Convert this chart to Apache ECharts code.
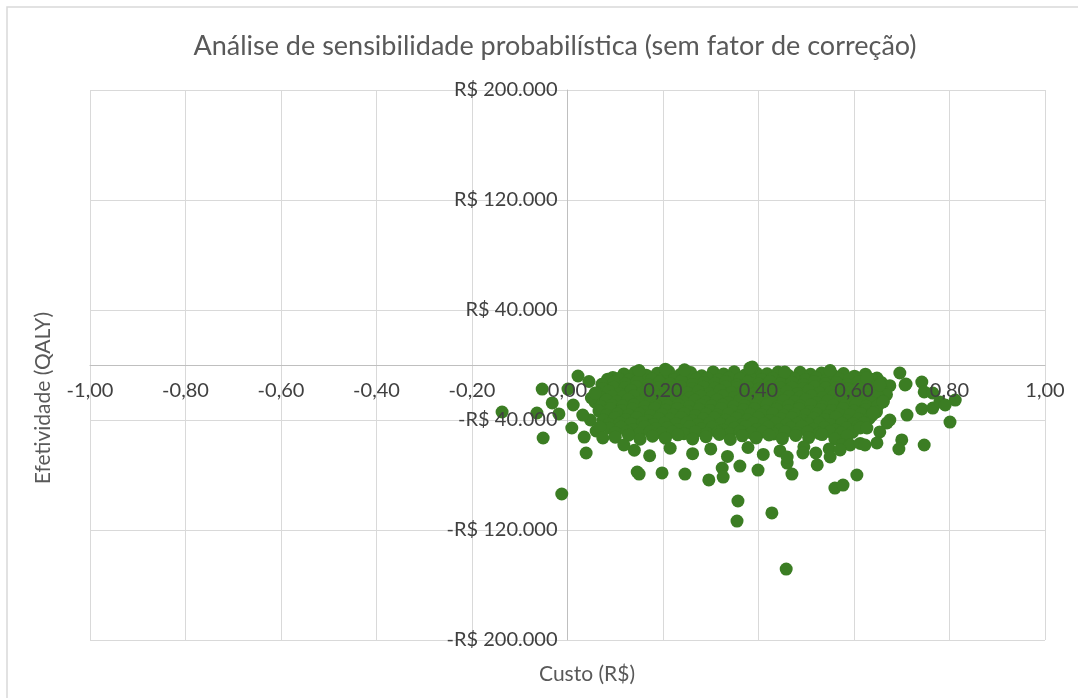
<!DOCTYPE html>
<html>
<head>
<meta charset="utf-8">
<script src="https://cdn.jsdelivr.net/npm/echarts@6/dist/echarts.min.js"></script>
<style>html,body{margin:0;padding:0;background:#fff;}#chart{width:1078px;height:698px;}</style>
</head>
<body>
<div id="chart"></div>
<script>
const titleText = 'Análise de sensibilidade probabilística (sem fator de correção)';
const xAxisTitle = 'Custo (R$)';
const yAxisTitle = 'Efetividade (QALY)';
const xRange = [-1, 1, 0.2];
const yRange = [-200000, 200000, 80000];

// Dense core of the cloud [custo, efetividade]
const coreCloud = [
  [0.095,-9000],[0.118,-6500],[0.142,-5200],[0.165,-7400],[0.188,-6000],[0.212,-4800],[0.236,-6900],[0.258,-5500],[0.281,-7800],[0.305,-5000],[0.327,-6600],[0.349,-4900],[0.372,-7200],[0.396,-5800],[0.418,-6400],[0.441,-5100],[0.463,-7700],[0.487,-5300],[0.509,-6800],[0.532,-5900],[0.556,-7400],[0.578,-6200],[0.601,-8100],[0.624,-6700],[0.648,-9500],
  [0.084,-10300],[0.107,-9800],[0.130,-10500],[0.154,-9600],[0.177,-10200],[0.200,-9900],[0.224,-10700],[0.247,-9500],[0.270,-10400],[0.293,-9700],[0.316,-10600],[0.338,-9400],[0.361,-10100],[0.384,-9800],[0.407,-10500],[0.430,-9600],[0.452,-10300],[0.475,-9900],[0.498,-10800],[0.521,-9500],[0.544,-10200],[0.567,-9700],[0.590,-10600],[0.613,-9900],[0.636,-10400],
  [0.072,-14000],[0.098,-12500],[0.121,-13800],[0.146,-11900],[0.169,-14400],[0.193,-12200],[0.215,-13600],[0.239,-11700],[0.262,-14100],[0.286,-12800],[0.309,-13300],[0.331,-12000],[0.355,-14600],[0.378,-12400],[0.401,-13900],[0.424,-11800],[0.447,-13500],[0.470,-12600],[0.494,-14200],[0.517,-12100],[0.540,-13700],[0.563,-12900],[0.586,-14300],[0.609,-12300],[0.633,-13800],[0.657,-12700],[0.675,-15000],
  [0.074,-17000],[0.097,-16200],[0.120,-16800],[0.144,-15900],[0.168,-17100],[0.191,-16300],[0.215,-16600],[0.238,-15800],[0.262,-17200],[0.285,-16100],[0.308,-16900],[0.331,-15700],[0.355,-16700],[0.378,-16400],[0.401,-17300],[0.424,-15900],[0.447,-16800],[0.470,-16200],[0.494,-17000],[0.517,-15800],[0.540,-16600],[0.563,-16300],[0.586,-17100],[0.609,-16000],[0.633,-16900],[0.656,-16400],
  [0.062,-20500],[0.086,-19000],[0.109,-20800],[0.133,-18600],[0.157,-20100],[0.180,-19300],[0.204,-21000],[0.227,-18800],[0.251,-20400],[0.274,-19100],[0.297,-20900],[0.320,-18500],[0.343,-20200],[0.367,-19600],[0.390,-21100],[0.413,-18900],[0.436,-20600],[0.459,-19400],[0.482,-20700],[0.505,-18700],[0.528,-20300],[0.551,-19800],[0.574,-21200],[0.597,-18900],[0.621,-20500],[0.645,-19200],[0.668,-21500],
  [0.070,-23500],[0.093,-22700],[0.116,-23300],[0.139,-22500],[0.163,-23800],[0.186,-22900],[0.209,-23200],[0.232,-22400],[0.256,-23700],[0.279,-22800],[0.302,-23400],[0.325,-22600],[0.349,-23900],[0.372,-22700],[0.395,-23100],[0.418,-22300],[0.441,-23600],[0.464,-22900],[0.487,-23300],[0.511,-22500],[0.534,-23800],[0.557,-22800],[0.580,-23200],[0.603,-22600],[0.626,-23700],[0.650,-22900],
  [0.058,-27000],[0.081,-25500],[0.104,-26800],[0.127,-25100],[0.150,-27300],[0.174,-25700],[0.197,-26500],[0.220,-24900],[0.244,-27100],[0.267,-25600],[0.290,-26900],[0.313,-25300],[0.337,-27400],[0.360,-25800],[0.383,-26600],[0.406,-25000],[0.429,-27200],[0.452,-25900],[0.476,-26700],[0.499,-25200],[0.522,-27500],[0.545,-26100],[0.568,-25400],[0.591,-27000],[0.614,-25700],[0.638,-27600],[0.661,-26300],
  [0.070,-30000],[0.093,-29200],[0.116,-29800],[0.139,-29000],[0.162,-30300],[0.185,-29400],[0.209,-29700],[0.232,-28900],[0.255,-30200],[0.279,-29300],[0.302,-29900],[0.325,-29100],[0.348,-30400],[0.371,-29500],[0.394,-29600],[0.418,-28800],[0.441,-30100],[0.464,-29400],[0.487,-29800],[0.510,-29000],[0.534,-30300],[0.557,-29300],[0.580,-29700],[0.603,-29100],[0.626,-30000],[0.650,-29500],
  [0.066,-33500],[0.090,-31800],[0.113,-33100],[0.136,-32000],[0.160,-33800],[0.183,-31500],[0.206,-32900],[0.230,-31700],[0.253,-34000],[0.276,-32200],[0.299,-33300],[0.322,-31600],[0.346,-33600],[0.369,-32400],[0.392,-31900],[0.415,-33700],[0.438,-32100],[0.462,-33400],[0.485,-31800],[0.508,-33900],[0.531,-32300],[0.554,-33000],[0.577,-31700],[0.600,-33500],[0.624,-32600],[0.647,-34200],
  [0.082,-36500],[0.105,-35700],[0.128,-36300],[0.151,-35500],[0.174,-36800],[0.198,-35900],[0.221,-36200],[0.244,-35400],[0.268,-36700],[0.291,-35800],[0.314,-36400],[0.337,-35600],[0.360,-36900],[0.383,-35800],[0.406,-36100],[0.430,-35300],[0.453,-36600],[0.476,-35900],[0.499,-36300],[0.522,-35500],[0.545,-36800],[0.569,-35800],[0.592,-36200],[0.615,-35600],[0.638,-36500],
  [0.075,-40000],[0.099,-38600],[0.122,-39700],[0.145,-38200],[0.168,-40300],[0.192,-38900],[0.215,-39500],[0.238,-38100],[0.262,-40500],[0.285,-39100],[0.308,-38400],[0.331,-40100],[0.354,-38700],[0.377,-39900],[0.400,-38300],[0.424,-40400],[0.447,-39200],[0.470,-38500],[0.493,-40200],[0.516,-38800],[0.539,-39600],[0.562,-38000],[0.585,-40600],[0.609,-39300],[0.632,-38900],
  [0.086,-43000],[0.110,-42200],[0.133,-42800],[0.157,-42000],[0.180,-43300],[0.203,-42400],[0.227,-42700],[0.250,-41900],[0.273,-43200],[0.297,-42300],[0.320,-42900],[0.343,-42100],[0.366,-43400],[0.389,-42300],[0.412,-42600],[0.436,-41800],[0.459,-43100],[0.482,-42400],[0.505,-42800],[0.528,-42000],[0.551,-43300],[0.575,-42300],[0.598,-42700],[0.621,-42000],
  [0.088,-46000],[0.112,-45200],[0.138,-47000],[0.161,-44800],[0.185,-46300],[0.209,-45500],[0.232,-47200],[0.256,-44900],[0.280,-46600],[0.303,-45300],[0.327,-47400],[0.350,-45800],[0.373,-44700],[0.397,-46900],[0.421,-45100],[0.444,-47100],[0.468,-45600],[0.491,-44600],[0.515,-46700],[0.538,-45400],[0.561,-47300],[0.585,-45900],[0.608,-44500],
  [0.100,-49300],[0.125,-48600],[0.150,-49800],[0.173,-48400],[0.197,-49500],[0.220,-48800],[0.244,-50000],[0.268,-48500],[0.292,-49600],[0.315,-48900],[0.339,-49900],[0.362,-48300],[0.385,-49400],[0.409,-48700],[0.432,-50100],[0.456,-48600],[0.480,-49200],[0.503,-48800],[0.527,-49700],[0.550,-48400],[0.573,-49500],[0.597,-48900],
  [0.100,-52500],[0.128,-51000],[0.152,-54000],[0.178,-51800],[0.205,-53200],[0.231,-50800],[0.262,-53800],[0.290,-52100],[0.318,-50500],[0.341,-54200],[0.366,-51500],[0.395,-53000],[0.422,-50900],[0.450,-53600],[0.478,-51200],[0.505,-52800],[0.533,-50600],[0.560,-53900],[0.586,-51400],
  [0.140,-62000],[0.172,-66000],[0.215,-60500],[0.262,-64500],[0.300,-61000],[0.335,-66500],[0.378,-60000],[0.410,-65000],[0.445,-62500],[0.495,-59500],[0.520,-64000],[0.548,-61000],[0.575,-58000],
  [0.045,-12000],[0.050,-24000],[0.048,-40000],[0.060,-48000],
  [0.387,-1500],[0.382,-2200],[0.455,-5100],[0.205,-3000],[0.245,-3500],[0.150,-4000],[0.550,-4000],
  [0.627,-9500],[0.654,-14500],[0.661,-26900],[0.675,-40000],[0.640,-34900],[0.613,-45800],[0.592,-58200],[0.613,-57000]
];

// Scattered points around the cloud
const scatteredPoints = [
  [-0.137,-34200],[-0.053,-17500],[-0.064,-34900],[-0.032,-27600],[-0.018,-35600],[-0.051,-53100],[-0.012,-93800],
  [0.022,-8000],[0.001,-17500],[0.012,-29100],[0.009,-45800],[0.035,-52400],[0.039,-64000],[0.032,-36400],[0.058,-20400],
  [0.068,-45100],[0.074,-53100],[0.118,-58200],[0.146,-77800],[0.150,-79300],[0.198,-78500],[0.246,-79300],
  [0.296,-83600],[0.324,-74900],[0.326,-81500],[0.361,-73500],[0.357,-98900],[0.355,-113500],[0.428,-107600],
  [0.458,-148400],[0.399,-76400],[0.460,-71300],[0.470,-79300],[0.523,-72700],[0.560,-89500],[0.577,-87300],
  [0.606,-80000],[0.460,-66900],[0.493,-64000],[0.550,-66900],[0.571,-61800],
  [0.696,-5800],[0.709,-13800],[0.742,-12400],[0.747,-19600],[0.765,-20400],[0.742,-32000],[0.765,-31300],
  [0.711,-36400],[0.700,-54500],[0.694,-61100],[0.747,-58200],[0.669,-42200],[0.654,-48700],[0.648,-56700],
  [0.623,-58200],[0.627,-45800],[0.801,-41500],[0.780,-26900],[0.812,-25500],[0.791,-29100],[0.707,-14500]
];

const allPoints = coreCloud.concat(scatteredPoints);

function fmtX(v) { return v.toFixed(2).replace('.', ','); }
function fmtY(v) {
  const r = Math.round(v);
  const s = String(Math.abs(r)).replace(/\B(?=(\d{3})+(?!\d))/g, '.');
  return (r < 0 ? '-' : '') + 'R$ ' + s;
}

const FONT = 'Lato';
const chart = echarts.init(document.getElementById('chart'), null, {renderer: 'canvas'});
const baseX = {type: 'value', min: xRange[0], max: xRange[1], interval: xRange[2], position: 'bottom'};
const baseY = {type: 'value', min: yRange[0], max: yRange[1], interval: yRange[2], position: 'left'};
chart.setOption({
  backgroundColor: '#ffffff',
  animation: false,
  title: {
    text: titleText, left: 550, top: 28, textAlign: 'center',
    textStyle: {fontFamily: FONT, fontSize: 27, fontWeight: 'normal', color: '#595959'}
  },
  grid: {left: 90, right: 33, top: 90, bottom: 58, containLabel: false, outerBoundsMode: 'none'},
  xAxis: [
    Object.assign({}, baseX, {
      z: 0,
      axisLine: {show: true, onZero: true, onZeroAxisIndex: 0, lineStyle: {color: '#bfbfbf', width: 1}},
      axisTick: {show: false},
      axisLabel: {show: false},
      splitLine: {show: true, lineStyle: {color: '#d9d9d9', width: 1}}
    }),
    Object.assign({}, baseX, {
      z: 10,
      offset: 0,
      axisLine: {show: false, onZero: false},
      axisTick: {show: false},
      axisLabel: {show: true, margin: 16, formatter: fmtX, fontFamily: FONT, fontSize: 20, color: '#404040'},
      splitLine: {show: false}
    })
  ],
  yAxis: [
    Object.assign({}, baseY, {
      z: 0,
      axisLine: {show: true, onZero: true, onZeroAxisIndex: 0, lineStyle: {color: '#bfbfbf', width: 1}},
      axisTick: {show: false},
      axisLabel: {show: false},
      splitLine: {show: true, lineStyle: {color: '#d9d9d9', width: 1}}
    }),
    Object.assign({}, baseY, {
      z: 10,
      offset: 0,
      axisLine: {show: false, onZero: false},
      axisTick: {show: false},
      axisLabel: {show: true, margin: 10, formatter: fmtY, fontFamily: FONT, fontSize: 20, color: '#404040'},
      splitLine: {show: false}
    })
  ],
  series: [{
    type: 'scatter',
    xAxisIndex: 0, yAxisIndex: 0,
    z: 5,
    symbol: 'circle',
    symbolSize: 13,
    itemStyle: {color: '#3b7d23', opacity: 1},
    data: allPoints
  }],
  graphic: [
    {type: 'rect', z: -10, shape: {x: 7, y: 7, width: 1090, height: 720}, style: {fill: 'none', stroke: '#d9d9d9', lineWidth: 1.5}},
    {type: 'text', x: 587, y: 674, style: {text: xAxisTitle, fontFamily: FONT, fontSize: 21, fill: '#595959', textAlign: 'center', textVerticalAlign: 'middle'}},
    {type: 'text', x: 43, y: 398, rotation: Math.PI / 2, style: {text: yAxisTitle, fontFamily: FONT, fontSize: 21, fill: '#595959', textAlign: 'center', textVerticalAlign: 'middle'}}
  ]
});

// Move the label-only axes onto the zero lines, using the library's own scales.
const gridRect = chart.getModel().getComponent('grid', 0).coordinateSystem.getRect();
const zeroX = chart.convertToPixel({xAxisIndex: 0}, 0);
const zeroY = chart.convertToPixel({yAxisIndex: 0}, 0);
chart.setOption({
  xAxis: [{}, {offset: -((gridRect.y + gridRect.height) - zeroY)}],
  yAxis: [{}, {offset: -(zeroX - gridRect.x)}]
});
</script>
</body>
</html>
